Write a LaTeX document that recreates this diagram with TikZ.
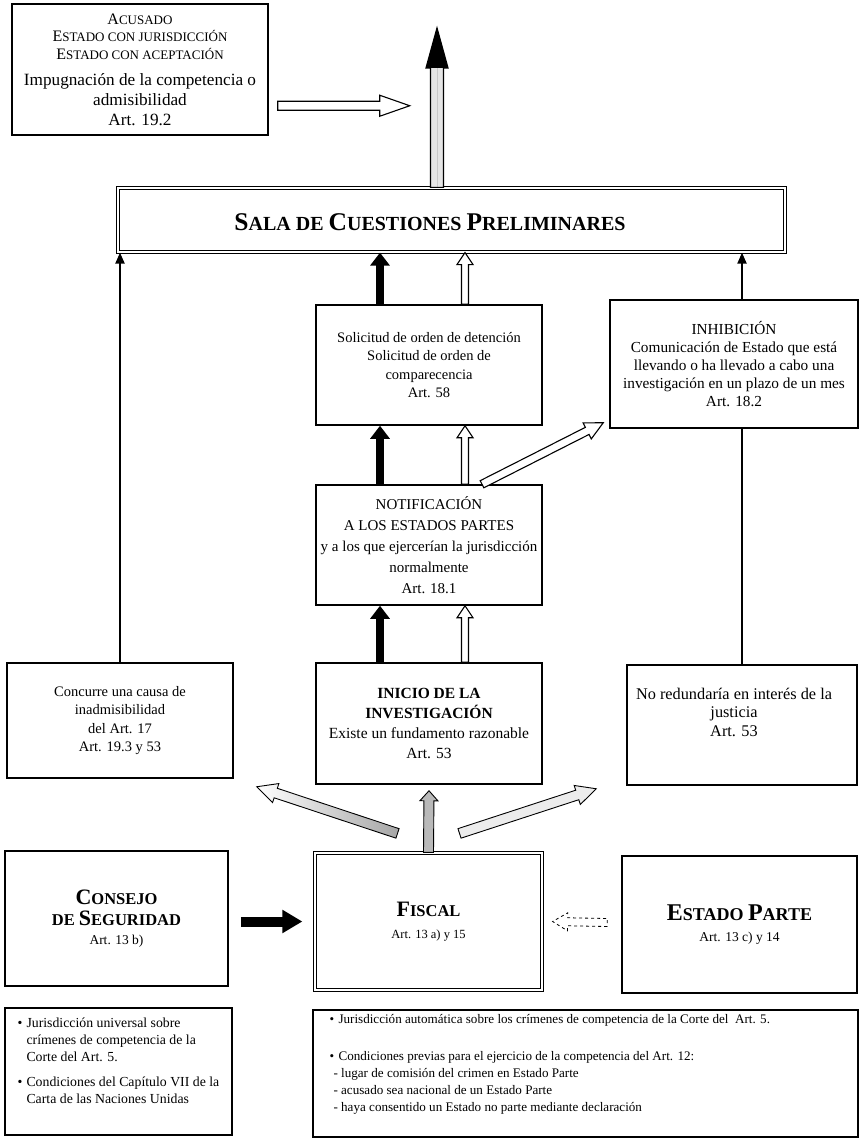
\documentclass[tikz,border=0pt]{standalone}
\usepackage{fontspec}
\setmainfont{Liberation Serif}
\usetikzlibrary{arrows.meta,calc}

% big initial + smaller capitals
\newcommand\smc[4]{{\fontsize{#1}{#1}\selectfont#3}{\fontsize{#2}{#2}\selectfont#4}}
\newcommand\bul{\makebox[9pt][l]{•}}
% block arrow: [style]{from}{to}{shaft half width}{head half width}{head length}
\newcommand\fatarrow[6][]{%
  \coordinate (fah) at ($(#3)!#6!(#2)$);
  \path[#1] ($(#2)!#4!90:(#3)$) -- ($(fah)!#4!-90:(#2)$) -- ($(fah)!#5!-90:(#2)$) -- (#3)
    -- ($(fah)!#5!90:(#2)$) -- ($(fah)!#4!90:(#2)$) -- ($(#2)!#4!-90:(#3)$) -- cycle;
}

\begin{document}
\begin{tikzpicture}[x=1pt,y=-1pt,
    box/.style={draw, line width=1.5pt, fill=white, align=center, inner sep=0pt},
    dbox/.style={box, double, line width=1.2pt, double distance=2.5pt},
    txt/.style={font=\fontsize{14.5}{18.3}\selectfont},
    fat/.style={line width=8.5pt, -{Triangle[length=13pt,width=19pt]}},
    slim/.style={line width=2pt, -{Triangle[length=11pt,width=9pt]}},
    hollow/.style={draw, fill=white, line width=1.1pt}]
        \useasboundingbox (0,0) rectangle (861,1139);
        % Boxes
        \node[box, minimum width=256pt, minimum height=131pt, font=\fontsize{17.2}{20}\selectfont] (acusado) at (140,69.5)
          {\smc{16}{13}{A}{CUSADO}\\[-2.5pt]
           \smc{16}{13}{E}{STADO CON JURISDICCIÓN}\\[-2.5pt]
           \smc{16}{13}{E}{STADO CON ACEPTACIÓN}\\[6pt]
           Impugnación de la competencia o\\admisibilidad\\Art. 19.2};
        \node[dbox, minimum width=667pt, minimum height=64pt] (sala) at (451.5,220) {};
        \node[font=\bfseries] (salatxt) at (430,222)
          {\smc{25.5}{20}{S}{ALA DE }\smc{25.5}{20}{C}{UESTIONES }\smc{25.5}{20}{P}{RELIMINARES}};
        \node[box, txt, minimum width=226pt, minimum height=120pt] (solicitud) at (429,365)
          {Solicitud de orden de detención\\Solicitud de orden de\\comparecencia\\Art. 58};
        \node[box, minimum width=248pt, minimum height=128pt, font=\fontsize{15.3}{18.2}\selectfont] (inhib) at (734,364)
          {INHIBICIÓN\\Comunicación de Estado que está\\llevando o ha llevado a cabo una\\investigación en un plazo de un mes\\Art. 18.2};
        \node[box, minimum width=226pt, minimum height=120pt, font=\fontsize{15}{21}\selectfont] (notif) at (429,545)
          {NOTIFICACIÓN\\A LOS ESTADOS PARTES\\y a los que ejercerían la jurisdicción\\normalmente\\Art. 18.1};
        \node[box, minimum width=226pt, minimum height=121pt, font=\fontsize{15.5}{20}\selectfont] (inicio) at (429,723.5)
          {\textbf{INICIO DE LA}\\\textbf{INVESTIGACIÓN}\\Existe un fundamento razonable\\Art. 53};
        \node[box, txt, minimum width=226pt, minimum height=115pt] (concurre) at (120,720.5)
          {Concurre una causa de\\inadmisibilidad\\del Art. 17\\Art. 19.3 y 53};
        \node[box, minimum width=230pt, minimum height=120pt] (nored) at (742,725) {};
        \node[align=center, font=\fontsize{16.3}{18.5}\selectfont] (noredtxt) at (734,712)
          {No redundaría en interés de la\\justicia\\Art. 53};
        \node[box, minimum width=223pt, minimum height=135pt, font=\fontsize{13.5}{21}\selectfont] (consejo) at (116.5,918.5)
          {\textbf{\smc{22}{16.5}{C}{ONSEJO}}\\\textbf{\smc{22}{16.5}{}{DE }\smc{22}{16.5}{S}{EGURIDAD}}\\[-2pt]Art. 13 b)};
        \node[dbox, minimum width=227pt, minimum height=137pt, font=\fontsize{12.5}{22}\selectfont] (fiscal) at (428.5,921.5)
          {\textbf{\smc{22}{16.5}{F}{ISCAL}}\\Art. 13 a) y 15};
        \node[box, minimum width=235pt, minimum height=137pt, font=\fontsize{13.5}{21}\selectfont] (estado) at (739.5,924.5)
          {\textbf{\smc{24}{18}{E}{STADO }\smc{24}{18}{P}{ARTE}}\\Art. 13 c) y 14};
        \node[box, minimum width=227pt, minimum height=127pt] (univ) at (118.5,1071.5) {};
        \node[anchor=west, align=left, font=\fontsize{13.8}{17}\selectfont] (univtxt) at (14,1061)
          {\bul Jurisdicción universal sobre\\
           \hspace*{9pt}crímenes de competencia de la\\
           \hspace*{9pt}Corte del Art. 5.\\[8pt]
           \bul Condiciones del Capítulo VII de la\\
           \hspace*{9pt}Carta de las Naciones Unidas};
        \node[box, minimum width=545pt, minimum height=127pt] (autom) at (585.5,1073.5) {};
        \node[anchor=west, align=left, font=\fontsize{13.1}{17}\selectfont] (automtxt) at (326,1064)
          {\bul Jurisdicción automática sobre los crímenes de competencia de la Corte del\ \ Art. 5.\\[20pt]
           \bul Condiciones previas para el ejercicio de la competencia del Art. 12:\\
           \hspace*{4pt}- lugar de comisión del crimen en Estado Parte\\
           \hspace*{4pt}- acusado sea nacional de un Estado Parte\\
           \hspace*{4pt}- haya consentido un Estado no parte mediante declaración};
        % Arrows at the top
        \coordinate (acu-a) at ($(acusado.south east)+(9,-30)$);
        \coordinate (acu-b) at ($(acu-a)+(132,0)$);
        \fatarrow[hollow]{acu-a}{acu-b}{4.5pt}{10.5pt}{30pt}
        \coordinate (t-a) at ($(sala.north)+(-14.5,0)$);
        \coordinate (t-b) at (437,28);
        \fatarrow[draw, fill=gray!20, line width=1.2pt]{t-a}{t-b}{6.5pt}{11pt}{40pt}
        \fatarrow[fill=black]{t-a}{t-b}{0pt}{11pt}{40pt}
        % Arrows to the Sala
        \draw[slim] (concurre.north) -- (concurre.north |- sala.south);
        \draw[line width=2pt] (nored.north) -- (nored.north |- inhib.south);
        \draw[slim] (nored.north |- inhib.north) -- (nored.north |- sala.south);
        \coordinate (bl) at (380,0);
        \coordinate (wl) at (465,0);
        \foreach \lo/\hi in {inicio/notif, notif/solicitud, solicitud/sala} {
          \draw[fat] (\lo.north -| bl) -- (\hi.south -| bl);
          \fatarrow[hollow]{\lo.north -| wl}{\hi.south -| wl}{3.5pt}{8pt}{12pt}
        }
        \coordinate (d-a) at ($(notif.north)+(53,0)$);
        \coordinate (d-b) at ($(inhib.south west)+(-6,-6)$);
        \fatarrow[hollow]{d-a}{d-b}{4pt}{9pt}{18pt}
        % Arrows from the Fiscal
        \coordinate (g-l) at ($(fiscal.north)+(-31,-19)$);
        \coordinate (g-lt) at ($(concurre.south east)+(23,8)$);
        \coordinate (g-r) at ($(fiscal.north)+(31,-19)$);
        \coordinate (g-rt) at ($(nored.south west)+(-30,3)$);
        \coordinate (g-ct) at ($(inicio.south)+(0,6)$);
        \fatarrow[draw, line width=0.9pt, left color=white, right color=gray!70]{g-l}{g-lt}{5pt}{10pt}{20pt}
        \fatarrow[draw, line width=0.9pt, fill=gray!15]{g-r}{g-rt}{5pt}{10pt}{20pt}
        \fatarrow[draw, line width=0.9pt, fill=gray!55]{fiscal.north}{g-ct}{5pt}{9pt}{10pt}
        % Arrows into the Fiscal
        \draw[line width=10pt, -{Triangle[length=20pt,width=22pt]}, shorten <=12pt, shorten >=12pt]
          (fiscal.west -| consejo.east) -- (fiscal.west);
        \coordinate (e-a) at ($(estado.west)+(-14,-2)$);
        \coordinate (e-b) at ($(fiscal.east)+(10,0)$);
        \fatarrow[draw, dashed, line width=0.8pt]{e-a}{e-b}{4pt}{9pt}{15pt}
\end{tikzpicture}
\end{document}
